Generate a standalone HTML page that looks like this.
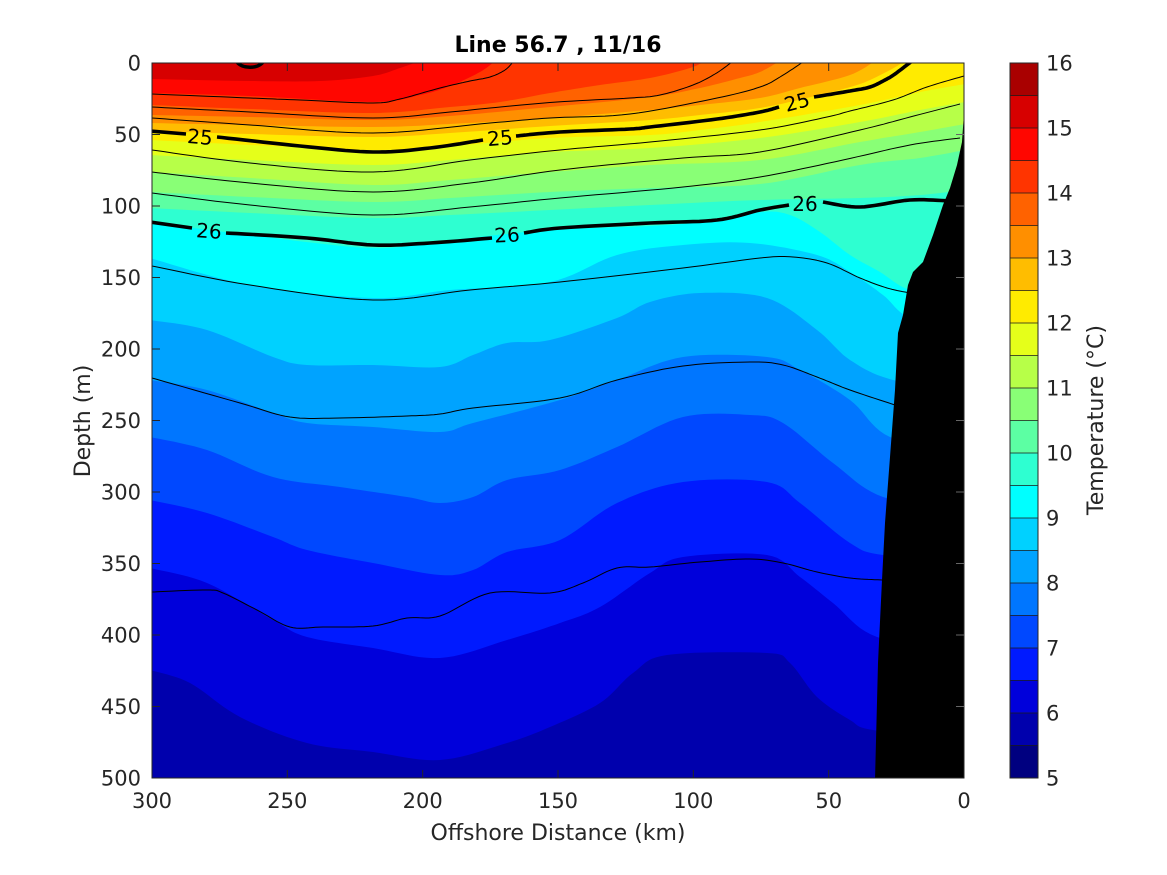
<!DOCTYPE html>
<html>
<head>
<meta charset="utf-8">
<style>
  html,body{margin:0;padding:0;background:#fff;}
  svg{display:block;}
  text{font-family:"DejaVu Sans","Liberation Sans",sans-serif;fill:#262626;}
</style>
</head>
<body>
<svg width="1167" height="875" viewBox="0 0 1167 875" xmlns="http://www.w3.org/2000/svg">
  <defs>
    <clipPath id="plot"><rect x="152" y="63" width="812" height="715"/></clipPath>
  </defs>
  <rect x="0" y="0" width="1167" height="875" fill="#fff"/>

  <g clip-path="url(#plot)">
    <rect x="150" y="60" width="820" height="720" fill="rgb(215,0,0)"/>
    <polygon class="sm" fill="rgb(255,6,0)" points="150,79 250,81 320,81 373,76 400,68 420,61 966,61 966,780 150,780"/>
    <polygon class="sm" fill="rgb(255,52,0)" points="150,93 250,96 373,102 420,95 450,86 480,72 495,61 966,61 966,780 150,780"/>
    <polygon class="sm" fill="rgb(255,98,0)" points="150,105 250,109 373,113 450,107 500,102 550,93 600,85 650,78 690,68 705,61 966,61 966,780 150,780"/>
    <polygon class="sm" fill="rgb(255,143,0)" points="150,115 250,117 373,120 450,116 550,107 650,97 700,88 740,78 760,72 780,61 966,61 966,780 150,780"/>
    <polygon class="sm" fill="rgb(255,189,0)" points="150,123 250,125 373,127 450,124 550,118 650,110 700,105 760,98 800,88 850,75 875,61 966,61 966,780 150,780"/>
    <polygon class="sm" fill="rgb(255,235,0)" points="150,131 250,134 373,137 450,133 550,126 650,120 700,115 760,108 815,96 860,84 890,70 905,61 966,61 966,780 150,780"/>
    <polygon class="sm" fill="rgb(229,255,26)" points="150,140 250,145 373,150 450,146 550,138 650,135 700,130 760,122 860,105 920,92 965,84 966,84 966,780 150,780"/>
    <polygon class="sm" fill="rgb(183,255,72)" points="150,155 250,160 373,165 450,160 550,152 650,148 760,138 860,122 920,110 965,102 966,102 966,780 150,780"/>
    <polygon class="sm" fill="rgb(137,255,118)" points="150,172 250,178 373,185 450,180 550,172 650,165 760,160 860,142 920,132 965,124 966,124 966,780 150,780"/>
    <polygon class="sm" fill="rgb(92,255,163)" points="150,192 250,197 373,202 450,198 550,192 650,188 760,184 860,165 920,158 965,150 966,150 966,780 150,780"/>
    <polygon class="sm" fill="rgb(46,255,209)" points="150,208 250,213 373,218 450,215 550,210 650,205 760,200 860,198 920,195 965,190 966,190 966,780 150,780"/>
    <polygon class="sm" fill="rgb(0,255,255)" points="150,222 250,235 373,248 450,240 550,230 650,226 700,222 760,212 790,215 820,232 850,255 880,272 910,290 965,300 966,300 966,780 150,780"/>
    <polygon class="sm" fill="rgb(0,209,255)" points="150,258 250,285 373,298 450,290 550,282 617,255 683,245 750,243 817,255 850,272 883,295 910,318 965,330 966,330 966,780 150,780"/>
    <polygon class="sm" fill="rgb(0,163,255)" points="150,320 207,330 273,357 307,365 373,365 440,367 473,355 507,343 550,340 617,318 650,302 700,293 767,298 817,330 850,360 893,380 965,390 966,390 966,780 150,780"/>
    <polygon class="sm" fill="rgb(0,118,255)" points="150,380 207,390 273,413 307,423 373,427 440,432 473,423 560,400 617,380 683,357 767,357 800,370 850,400 890,437 965,450 966,450 966,780 150,780"/>
    <polygon class="sm" fill="rgb(0,72,255)" points="150,437 207,450 273,477 340,487 407,497 440,503 473,497 507,480 560,470 617,447 683,417 750,415 783,423 833,463 883,497 965,510 966,510 966,780 150,780"/>
    <polygon class="sm" fill="rgb(0,26,255)" points="150,500 207,513 273,537 307,550 373,563 440,575 473,570 507,552 560,540 617,503 683,482 767,482 800,503 850,543 883,555 965,560 966,560 966,780 150,780"/>
    <polygon class="sm" fill="rgb(0,0,219)" points="150,568 207,583 273,620 307,637 373,648 440,658 507,640 560,623 600,607 650,573 683,557 767,555 800,577 833,603 877,637 965,650 966,650 966,780 150,780"/>
    <polygon class="sm" fill="rgb(0,0,173)" points="150,670 190,683 240,717 307,743 373,752 440,760 507,743 550,727 600,703 633,673 667,655 767,653 790,663 817,697 850,720 873,730 965,740 966,740 966,780 150,780"/>

    <!-- thin density contours -->
    <g fill="none" stroke="#000" stroke-width="1" stroke-linejoin="round">
      <polyline class="sm" points="152,94 250,98 300,100 373,103 400,99 440,88 470,81 490,77 505,70 513,62"/>
      <polyline class="sm" points="152,107 250,112 373,118 450,112 490,108 557,102 630,98 660,95 693,85 715,74 732,62"/>
      <polyline class="sm" points="152,118 250,125 373,133 490,123 550,118 630,114 717,98 760,87 780,77 803,62"/>
      <polyline class="sm" points="152,150 250,163 373,172 470,160 560,150 650,142 760,130 827,117 850,111 893,100 927,87 964,76"/>
      <polyline class="sm" points="152,172 250,183 373,192 470,183 560,170 683,158 760,152 860,130 910,117 960,104"/>
      <polyline class="sm" points="152,193 250,205 373,215 470,207 560,198 683,187 760,177 843,160 910,145 960,138"/>
      <polyline class="sm" points="152,266 250,285 373,300 470,290 560,282 683,268 760,258 793,257 827,263 860,278 887,288 910,293"/>
      <polyline class="sm" points="152,378 240,403 290,417 340,418 407,416 440,414 473,408 560,398 617,380 683,366 750,362 783,365 817,377 850,390 895,405"/>
      <polyline class="sm" points="152,592 207,590 223,593 257,610 290,627 323,627 373,626 407,618 440,616 490,593 550,593 583,583 617,568 650,567 700,562 750,559 783,563 817,572 850,578 882,580"/>
    </g>
    <!-- thick labeled contours -->
    <g fill="none" stroke="#000" stroke-width="3.6" stroke-linejoin="round" stroke-linecap="butt">
      <polyline points="150,131 186,134"/>
      <polyline class="sm" points="217,137 300,146 373,152 430,148 483,140"/>
      <polyline class="sm" points="516,136 560,132 630,129 650,127 717,119 760,112 779,107"/>
      <polyline class="sm" points="814,97 850,91 870,87 885,80 895,74 912,61"/>
      <polyline points="150,222 192,228"/>
      <polyline class="sm" points="226,233 307,238 373,245 430,243 492,238"/>
      <polyline class="sm" points="524,233 560,228 650,223 717,220 760,210 789,205"/>
      <polyline class="sm" points="823,202 860,207 910,200 950,201"/>
      <path d="M237,62 C242,69 258,69 263,62"/>
    </g>

    <!-- terrain -->
    <polygon fill="#000" points="966,113 964,113 962,142 957,165 950,188 943,205 933,235 923,262 913,272 908,285 903,315 898,333 895,390 890,457 885,523 882,580 878,663 875,780 966,780"/>
  </g>

  <!-- contour labels -->
  <g font-size="20" text-anchor="middle">
    <text x="200" y="144" transform="rotate(5 200 137)" style="fill:#000">25</text>
    <text x="500" y="145" transform="rotate(-5 500 138)" style="fill:#000">25</text>
    <text x="797" y="109" transform="rotate(-15 797 102)" style="fill:#000">25</text>
    <text x="209" y="238" transform="rotate(4 209 231)" style="fill:#000">26</text>
    <text x="507" y="242" transform="rotate(-3 507 235)" style="fill:#000">26</text>
    <text x="805" y="211" style="fill:#000">26</text>
  </g>

  <!-- axes box and ticks -->
  <rect x="152" y="63" width="812" height="715" fill="none" stroke="#262626" stroke-width="1"/>
  <g stroke="#262626" stroke-width="1">
    <line x1="287.3" y1="778" x2="287.3" y2="770"/>
    <line x1="422.7" y1="778" x2="422.7" y2="770"/>
    <line x1="558" y1="778" x2="558" y2="770"/>
    <line x1="693.3" y1="778" x2="693.3" y2="770"/>
    <line x1="828.7" y1="778" x2="828.7" y2="770"/>
    <line x1="287.3" y1="63" x2="287.3" y2="71"/>
    <line x1="422.7" y1="63" x2="422.7" y2="71"/>
    <line x1="558" y1="63" x2="558" y2="71"/>
    <line x1="693.3" y1="63" x2="693.3" y2="71"/>
    <line x1="828.7" y1="63" x2="828.7" y2="71"/>
    <line x1="152" y1="134.5" x2="160" y2="134.5"/>
    <line x1="152" y1="206" x2="160" y2="206"/>
    <line x1="152" y1="277.5" x2="160" y2="277.5"/>
    <line x1="152" y1="349" x2="160" y2="349"/>
    <line x1="152" y1="420.5" x2="160" y2="420.5"/>
    <line x1="152" y1="492" x2="160" y2="492"/>
    <line x1="152" y1="563.5" x2="160" y2="563.5"/>
    <line x1="152" y1="635" x2="160" y2="635"/>
    <line x1="152" y1="706.5" x2="160" y2="706.5"/>
  </g>
  <g stroke="#666" stroke-width="1">
    <line x1="964" y1="134.5" x2="956" y2="134.5"/>
    <line x1="964" y1="206" x2="956" y2="206"/>
    <line x1="964" y1="277.5" x2="956" y2="277.5"/>
    <line x1="964" y1="349" x2="956" y2="349"/>
    <line x1="964" y1="420.5" x2="956" y2="420.5"/>
    <line x1="964" y1="492" x2="956" y2="492"/>
    <line x1="964" y1="563.5" x2="956" y2="563.5"/>
    <line x1="964" y1="635" x2="956" y2="635"/>
    <line x1="964" y1="706.5" x2="956" y2="706.5"/>
  </g>

  <!-- tick labels -->
  <g font-size="21" text-anchor="middle">
    <text x="152" y="808">300</text>
    <text x="287.3" y="808">250</text>
    <text x="422.7" y="808">200</text>
    <text x="558" y="808">150</text>
    <text x="693.3" y="808">100</text>
    <text x="828.7" y="808">50</text>
    <text x="964" y="808">0</text>
  </g>
  <g font-size="21" text-anchor="end">
    <text x="141" y="70.5">0</text>
    <text x="141" y="142">50</text>
    <text x="141" y="213.5">100</text>
    <text x="141" y="285">150</text>
    <text x="141" y="356.5">200</text>
    <text x="141" y="428">250</text>
    <text x="141" y="499.5">300</text>
    <text x="141" y="571">350</text>
    <text x="141" y="642.5">400</text>
    <text x="141" y="714">450</text>
    <text x="141" y="785.5">500</text>
  </g>

  <!-- axis labels and title -->
  <text x="558" y="840" font-size="22" text-anchor="middle">Offshore Distance (km)</text>
  <text transform="translate(90,421) rotate(-90)" font-size="22" text-anchor="middle">Depth (m)</text>
  <text x="558" y="52" font-size="22" font-weight="bold" text-anchor="middle" style="fill:#000">Line 56.7 , 11/16</text>

  <!-- colorbar -->
  <g>
    <rect x="1010" y="745.5" width="28" height="32.5" fill="rgb(0,0,128)"/>
    <rect x="1010" y="713" width="28" height="32.5" fill="rgb(0,0,173)"/>
    <rect x="1010" y="680.5" width="28" height="32.5" fill="rgb(0,0,219)"/>
    <rect x="1010" y="648" width="28" height="32.5" fill="rgb(0,26,255)"/>
    <rect x="1010" y="615.5" width="28" height="32.5" fill="rgb(0,72,255)"/>
    <rect x="1010" y="583" width="28" height="32.5" fill="rgb(0,118,255)"/>
    <rect x="1010" y="550.5" width="28" height="32.5" fill="rgb(0,163,255)"/>
    <rect x="1010" y="518" width="28" height="32.5" fill="rgb(0,209,255)"/>
    <rect x="1010" y="485.5" width="28" height="32.5" fill="rgb(0,255,255)"/>
    <rect x="1010" y="453" width="28" height="32.5" fill="rgb(46,255,209)"/>
    <rect x="1010" y="420.5" width="28" height="32.5" fill="rgb(92,255,163)"/>
    <rect x="1010" y="388" width="28" height="32.5" fill="rgb(137,255,118)"/>
    <rect x="1010" y="355.5" width="28" height="32.5" fill="rgb(183,255,72)"/>
    <rect x="1010" y="323" width="28" height="32.5" fill="rgb(229,255,26)"/>
    <rect x="1010" y="290.5" width="28" height="32.5" fill="rgb(255,235,0)"/>
    <rect x="1010" y="258" width="28" height="32.5" fill="rgb(255,189,0)"/>
    <rect x="1010" y="225.5" width="28" height="32.5" fill="rgb(255,143,0)"/>
    <rect x="1010" y="193" width="28" height="32.5" fill="rgb(255,98,0)"/>
    <rect x="1010" y="160.5" width="28" height="32.5" fill="rgb(255,52,0)"/>
    <rect x="1010" y="128" width="28" height="32.5" fill="rgb(255,6,0)"/>
    <rect x="1010" y="95.5" width="28" height="32.5" fill="rgb(215,0,0)"/>
    <rect x="1010" y="63" width="28" height="32.5" fill="rgb(169,0,0)"/>
    <g stroke="#1a1a1a" stroke-width="0.8">
      <line x1="1010" x2="1038" y1="745.5" y2="745.5"/>
      <line x1="1010" x2="1038" y1="713" y2="713"/>
      <line x1="1010" x2="1038" y1="680.5" y2="680.5"/>
      <line x1="1010" x2="1038" y1="648" y2="648"/>
      <line x1="1010" x2="1038" y1="615.5" y2="615.5"/>
      <line x1="1010" x2="1038" y1="583" y2="583"/>
      <line x1="1010" x2="1038" y1="550.5" y2="550.5"/>
      <line x1="1010" x2="1038" y1="518" y2="518"/>
      <line x1="1010" x2="1038" y1="485.5" y2="485.5"/>
      <line x1="1010" x2="1038" y1="453" y2="453"/>
      <line x1="1010" x2="1038" y1="420.5" y2="420.5"/>
      <line x1="1010" x2="1038" y1="388" y2="388"/>
      <line x1="1010" x2="1038" y1="355.5" y2="355.5"/>
      <line x1="1010" x2="1038" y1="323" y2="323"/>
      <line x1="1010" x2="1038" y1="290.5" y2="290.5"/>
      <line x1="1010" x2="1038" y1="258" y2="258"/>
      <line x1="1010" x2="1038" y1="225.5" y2="225.5"/>
      <line x1="1010" x2="1038" y1="193" y2="193"/>
      <line x1="1010" x2="1038" y1="160.5" y2="160.5"/>
      <line x1="1010" x2="1038" y1="128" y2="128"/>
      <line x1="1010" x2="1038" y1="95.5" y2="95.5"/>
    </g>
    <rect x="1010" y="63" width="28" height="715" fill="none" stroke="#262626" stroke-width="1"/>
  </g>
  <g font-size="21" text-anchor="start">
    <text x="1046" y="70.5">16</text>
    <text x="1046" y="135.5">15</text>
    <text x="1046" y="200.5">14</text>
    <text x="1046" y="265.5">13</text>
    <text x="1046" y="330.5">12</text>
    <text x="1046" y="395.5">11</text>
    <text x="1046" y="460.5">10</text>
    <text x="1046" y="525.5">9</text>
    <text x="1046" y="590.5">8</text>
    <text x="1046" y="655.5">7</text>
    <text x="1046" y="720.5">6</text>
    <text x="1046" y="785.5">5</text>
  </g>
  <text transform="translate(1103,420) rotate(-90)" font-size="22" text-anchor="middle">Temperature (°C)</text>
</svg>
<script>
(function(){
  var els = document.querySelectorAll('.sm');
  function c(p){ return p[0] < 966 && p[1] < 780; }
  for (var e = 0; e < els.length; e++) {
    var el = els[e];
    var pts = el.getAttribute('points').trim().split(/\s+/).map(function(s){ return s.split(',').map(Number); });
    var out = [];
    for (var i = 0; i < pts.length; i++) {
      out.push(pts[i]);
      if (i + 1 < pts.length && c(pts[i]) && c(pts[i+1])) {
        var p1 = pts[i], p2 = pts[i+1];
        var p0 = (i > 0 && c(pts[i-1])) ? pts[i-1] : p1;
        var p3 = (i + 2 < pts.length && c(pts[i+2])) ? pts[i+2] : p2;
        for (var k = 1; k < 10; k++) {
          var t = k / 10, t2 = t * t, t3 = t2 * t;
          var q = [0, 0];
          for (var d = 0; d < 2; d++) {
            q[d] = 0.5 * ((2 * p1[d]) + (-p0[d] + p2[d]) * t +
                   (2 * p0[d] - 5 * p1[d] + 4 * p2[d] - p3[d]) * t2 +
                   (-p0[d] + 3 * p1[d] - 3 * p2[d] + p3[d]) * t3);
          }
          out.push(q);
        }
      }
    }
    el.setAttribute('points', out.map(function(p){ return p[0].toFixed(1) + ',' + p[1].toFixed(1); }).join(' '));
  }
})();
</script>
</body>
</html>
